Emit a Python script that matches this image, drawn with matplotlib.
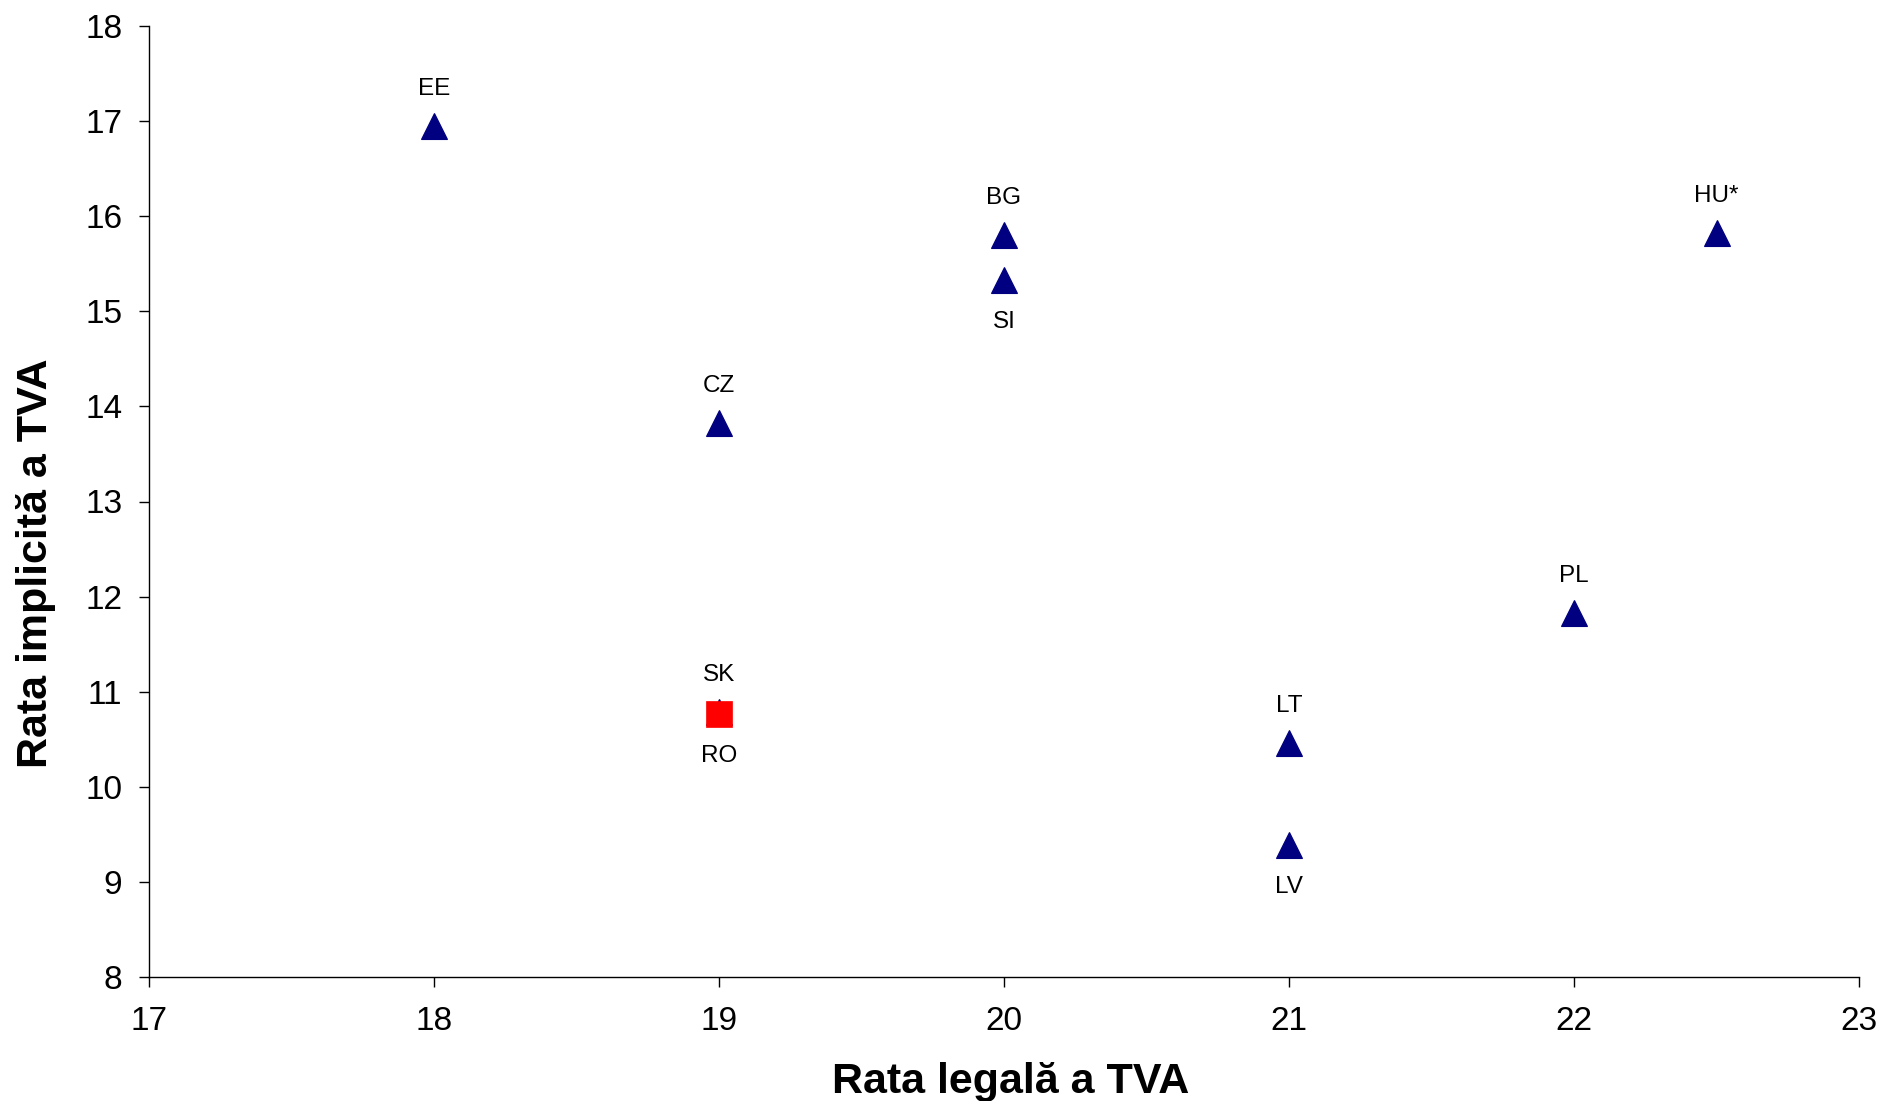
import matplotlib
matplotlib.use("Agg")
import matplotlib.pyplot as plt

plt.rcParams['font.family'] = ['Liberation Sans', 'DejaVu Sans']

countries = ['EE', 'CZ', 'SK', 'BG', 'SI', 'LT', 'LV', 'PL', 'HU*']
legal_rate = [18, 19, 19, 20, 20, 21, 21, 22, 22.5]
implicit_rate = [16.95, 13.83, 10.79, 15.80, 15.33, 10.46, 9.39, 11.83, 15.82]
label_pos = ['above', 'above', 'above', 'above', 'below', 'above', 'below', 'above', 'above']

ro_name = 'RO'
ro_legal = [19]
ro_implicit = [10.77]

x_ticks = [17, 18, 19, 20, 21, 22, 23]
y_ticks = [8, 9, 10, 11, 12, 13, 14, 15, 16, 17, 18]

fig = plt.figure(figsize=(18.83, 11.01), dpi=100)
ax = fig.add_axes([149/1883, 1-977/1101, (1859-149)/1883, (977-26)/1101])

ax.plot(legal_rate, implicit_rate, linestyle='none', marker='^', markersize=19,
        markerfacecolor='#000080', markeredgecolor='#000080', markeredgewidth=0.8, zorder=3)
ax.plot(ro_legal, ro_implicit, linestyle='none', marker='s', markersize=19,
        markerfacecolor='#FF0000', markeredgecolor='#FF0000', markeredgewidth=0.5, zorder=4)

for name, x, y, pos in zip(countries, legal_rate, implicit_rate, label_pos):
    off = 31 if pos == 'above' else -48
    ax.annotate(name, (x, y), xytext=(0, off), textcoords='offset pixels',
                ha='center', va='baseline', fontsize=17.5, color='black')
ax.annotate(ro_name, (ro_legal[0], ro_implicit[0]), xytext=(0, -48), textcoords='offset pixels',
            ha='center', va='baseline', fontsize=17.5, color='black')

ax.set_xlim(17, 23)
ax.set_ylim(8, 18)
ax.set_xticks(x_ticks)
ax.set_yticks(y_ticks)
ax.set_xticklabels([str(t) for t in x_ticks])
ax.set_yticklabels([str(t) for t in y_ticks])
ax.spines['top'].set_visible(False)
ax.spines['right'].set_visible(False)
for s in ['left', 'bottom']:
    ax.spines[s].set_linewidth(1.0)
ax.tick_params(axis='both', direction='out', length=7.2, width=1.0, labelsize=24)
ax.tick_params(axis='y', pad=12)
ax.tick_params(axis='x', pad=14)

fig.text(1011/1883, 1-1093/1101, 'Rata legală a TVA', ha='center', va='baseline',
         fontsize=31, fontweight='bold')
fig.text(36/1883, 1-563/1101, 'Rata implicită a TVA', ha='center', va='center',
         rotation=90, fontsize=31, fontweight='bold')

fig.savefig('out.png', dpi=100)
